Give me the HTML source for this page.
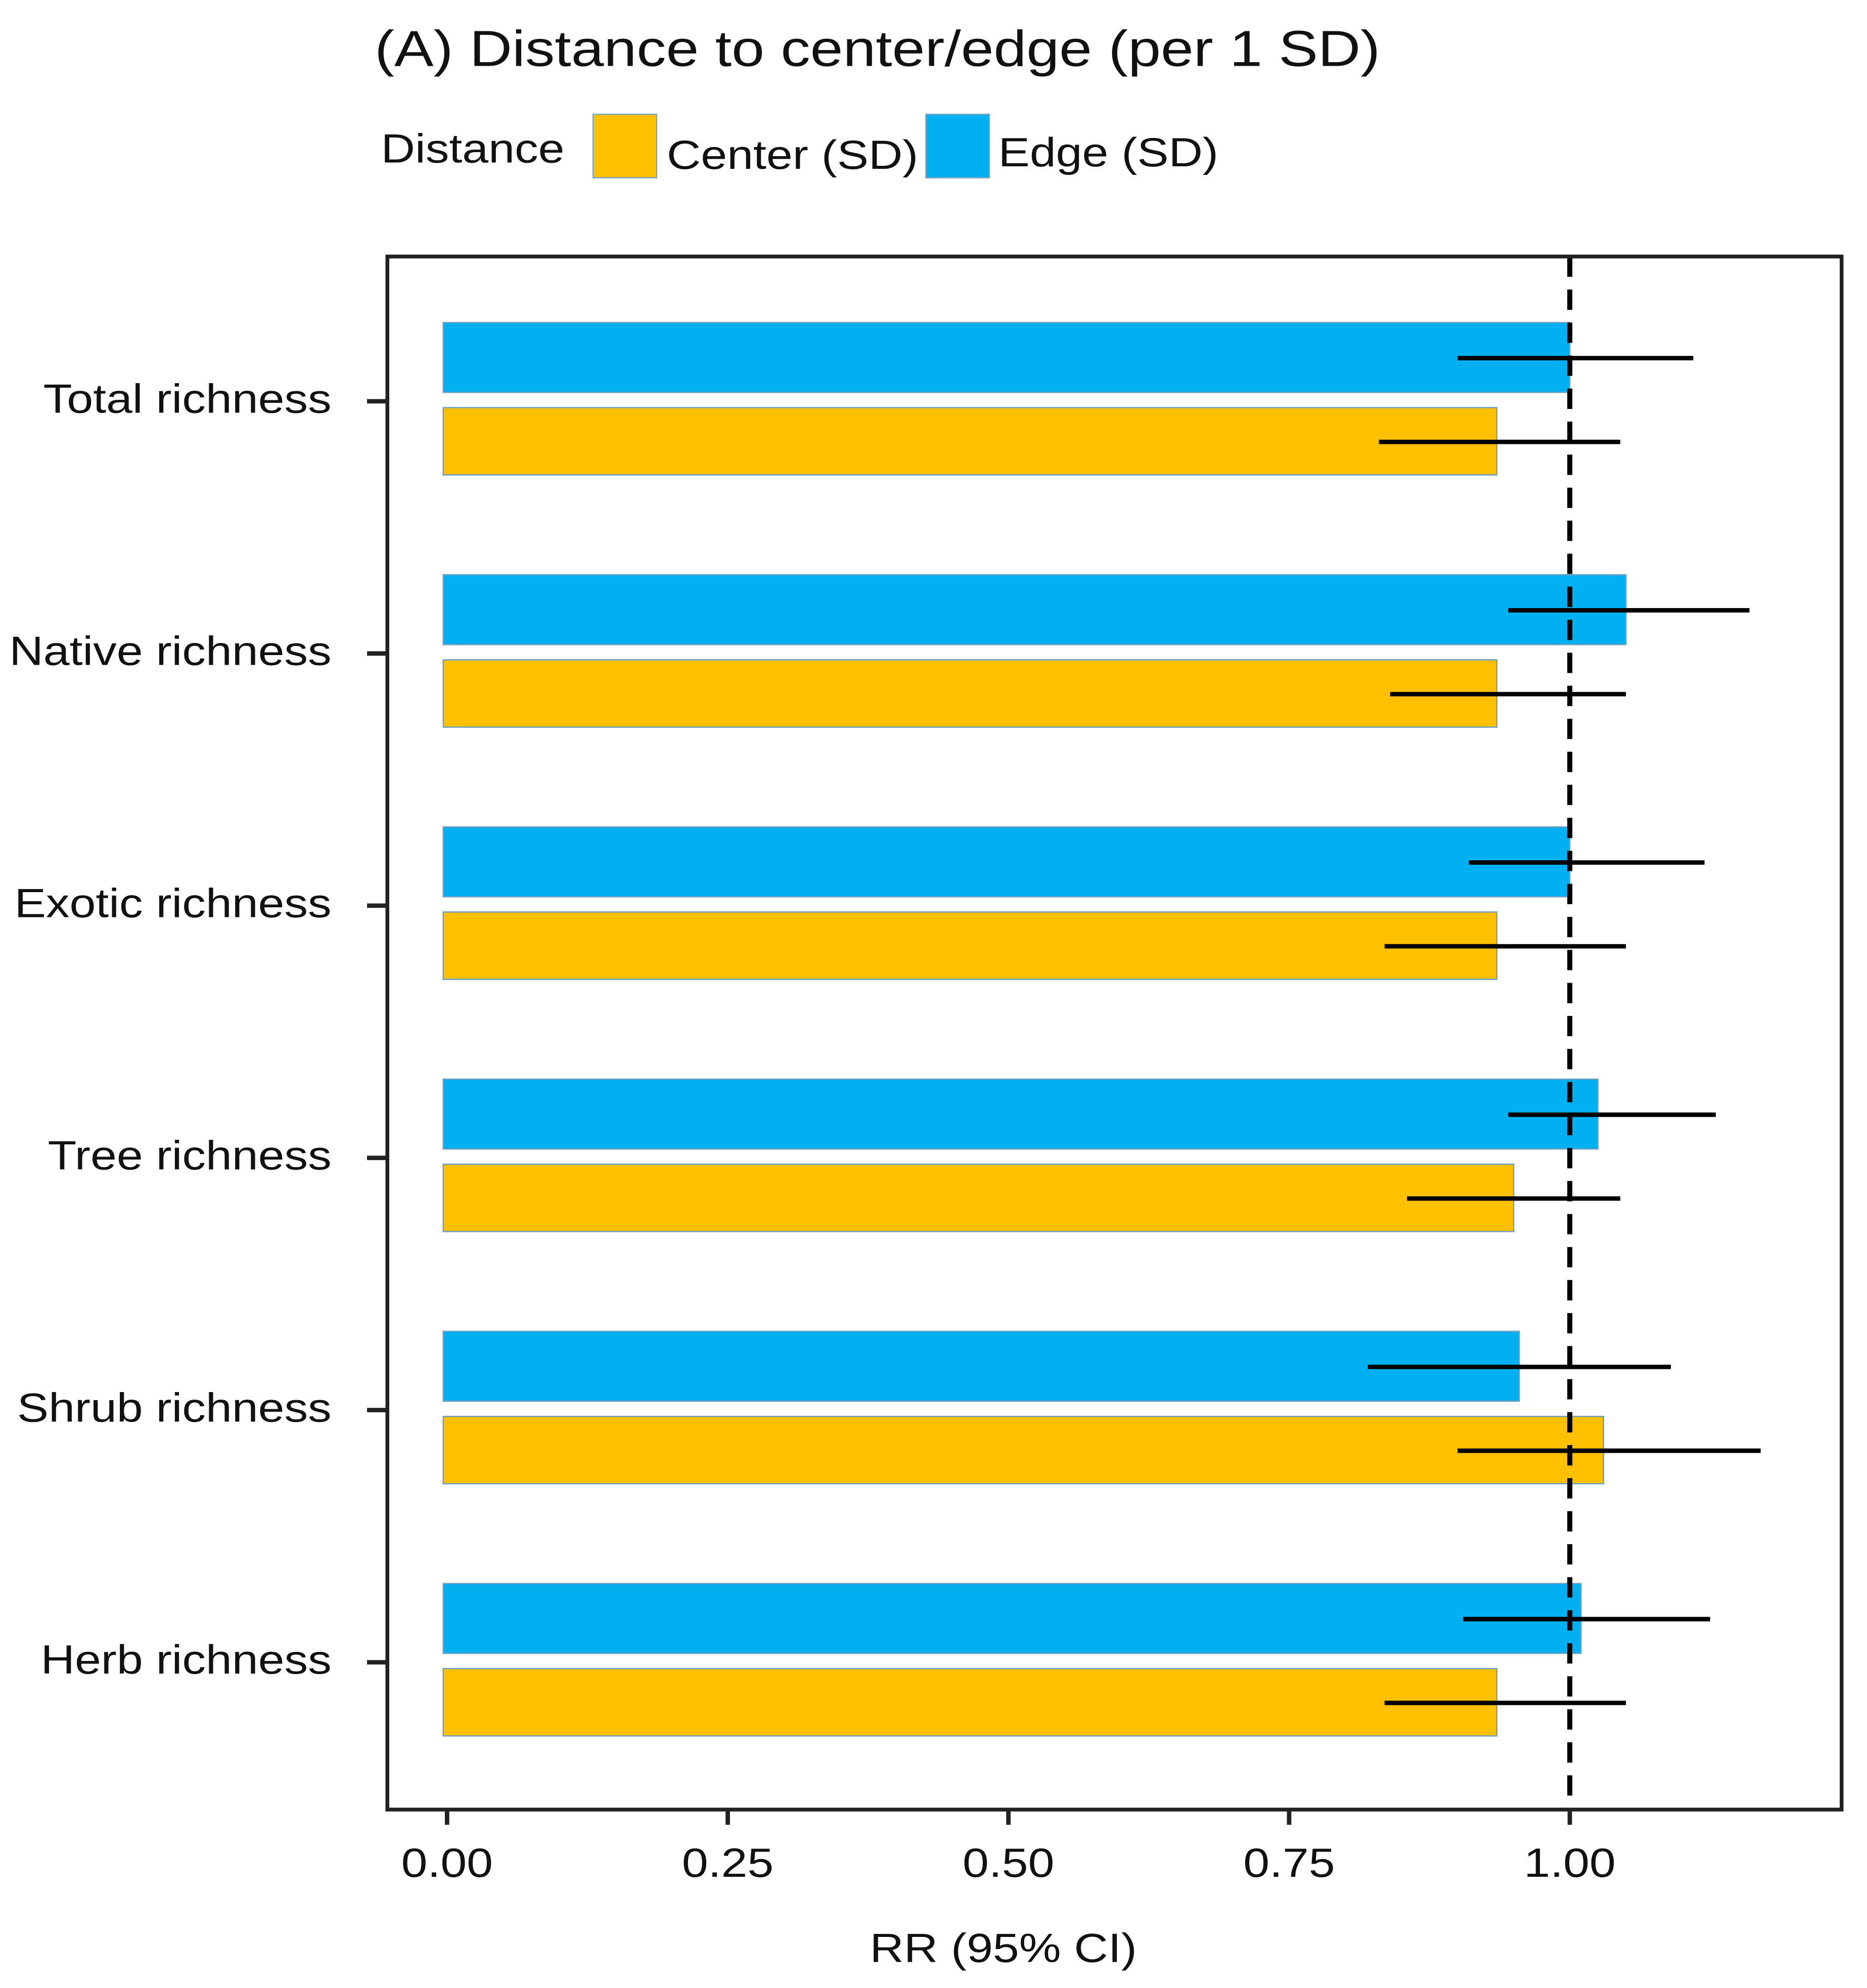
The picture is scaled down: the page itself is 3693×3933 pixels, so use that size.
<!DOCTYPE html>
<html><head><meta charset="utf-8"><style>html,body{margin:0;padding:0;background:#fff}svg{display:block}text{font-family:"Liberation Sans",sans-serif;fill:#111}</style></head>
<body>
<svg id="chart" width="3693" height="3933" viewBox="0 0 1470 1565.5" preserveAspectRatio="none" xmlns="http://www.w3.org/2000/svg">
<rect width="1470" height="1565.5" fill="#fff"/>
<text class="w" x="295" y="52" font-size="40">(A) Distance to center/edge (per 1 SD)</text>
<g>
<text class="w" x="300" y="128" font-size="32">Distance</text>
<rect x="467" y="90" width="50" height="50" fill="#FFC000" stroke="#7aa6c2" stroke-width="1"/>
<text class="w" x="525" y="133" font-size="32">Center (SD)</text>
<rect x="729" y="90" width="50" height="50" fill="#00B0F0" stroke="#7aa6c2" stroke-width="1"/>
<text class="w" x="786" y="131" font-size="32">Edge (SD)</text>
</g>
<g id="plot"></g>
<rect x="305" y="202" width="1145" height="1223" fill="none" stroke="#222" stroke-width="3"/>
<text class="w" x="790" y="1545" font-size="32" text-anchor="middle">RR (95% CI)</text>
</svg>
<script>
const categories=["Total richness","Native richness","Exotic richness","Tree richness","Shrub richness","Herb richness"];
const edgeRR=[1.00,1.05,1.00,1.025,0.955,1.01];
const edgeLo=[0.90,0.945,0.91,0.945,0.82,0.905];
const edgeHi=[1.11,1.16,1.12,1.13,1.09,1.125];
const centerRR=[0.935,0.935,0.935,0.95,1.03,0.935];
const centerLo=[0.83,0.84,0.835,0.855,0.90,0.835];
const centerHi=[1.045,1.05,1.05,1.045,1.17,1.05];
const xTicks=[0,0.25,0.5,0.75,1.0];
const xTickLabels=["0.00","0.25","0.50","0.75","1.00"];
const NS="http://www.w3.org/2000/svg";
const g=document.getElementById('plot');
const xS=v=>352+v*884;
const yS=i=>316+i*198.6;
function mk(t,a){const e=document.createElementNS(NS,t);for(const k in a)e.setAttribute(k,a[k]);g.appendChild(e);return e;}
categories.forEach((c,i)=>{
  const y=yS(i);
  let r=mk('rect',{x:xS(0)-3,y:y-62,width:xS(edgeRR[i])-xS(0)+3,height:55,fill:'#00B0F0',stroke:'#6f9fc0','stroke-width':1});
  
  
  r=mk('rect',{x:xS(0)-3,y:y+5,width:xS(centerRR[i])-xS(0)+3,height:53,fill:'#FFC000',stroke:'#6f9fc0','stroke-width':1});
  
  
  let l=mk('line',{x1:xS(edgeLo[i]),x2:xS(edgeHi[i]),y1:y-34,y2:y-34,stroke:'#000','stroke-width':3.5});
  
  
  l=mk('line',{x1:xS(centerLo[i]),x2:xS(centerHi[i]),y1:y+32,y2:y+32,stroke:'#000','stroke-width':3.5});
  
  
  l=mk('line',{x1:289,x2:305,y1:y,y2:y,stroke:'#222','stroke-width':3.5});
  
  
  const t=mk('text',{x:261,y:y+9,'font-size':32,'text-anchor':'end','class':'w'});
  t.textContent=c;
  
  
});
const d=mk('line',{x1:xS(1),x2:xS(1),y1:202,y2:1425,stroke:'#000','stroke-width':4,'stroke-dasharray':'16,10'});


xTicks.forEach((v,i)=>{
  const l=mk('line',{x1:xS(v),x2:xS(v),y1:1425,y2:1437,stroke:'#222','stroke-width':3.5});
  
  
  const t=mk('text',{x:xS(v),y:1478,'font-size':32,'text-anchor':'middle','class':'w'});
  t.textContent=xTickLabels[i];
  
  
});
document.querySelectorAll('text.w').forEach(t=>{
  const n=t.getComputedTextLength();
  t.setAttribute('textLength',(n*1.16).toFixed(1));
  t.setAttribute('lengthAdjust','spacingAndGlyphs');
});
</script>
</body></html>
